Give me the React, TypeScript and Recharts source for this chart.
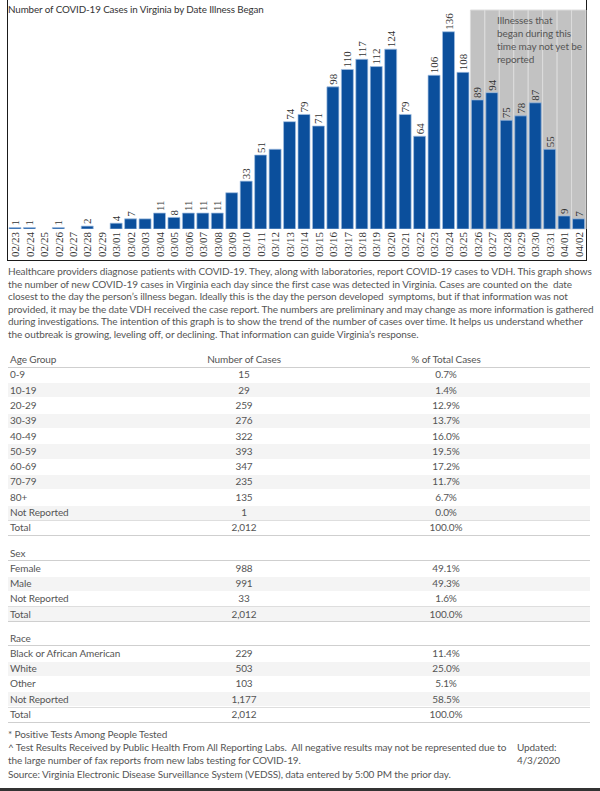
import React from 'react';
import { BarChart, Bar, XAxis, YAxis, ReferenceArea, LabelList } from 'recharts';

const dates = [
  '02/23', '02/24', '02/25', '02/26', '02/27', '02/28', '02/29',
  '03/01', '03/02', '03/03', '03/04', '03/05', '03/06', '03/07', '03/08', '03/09', '03/10',
  '03/11', '03/12', '03/13', '03/14', '03/15', '03/16', '03/17', '03/18', '03/19', '03/20',
  '03/21', '03/22', '03/23', '03/24', '03/25', '03/26', '03/27', '03/28', '03/29', '03/30',
  '03/31', '04/01', '04/02',
];
const cases = [
  1, 1, 0, 1, 0, 2, 0,
  4, 7, 7, 11, 8, 11, 11, 11, 25, 33,
  51, 55, 74, 79, 71, 98, 110, 117, 112, 124,
  79, 64, 106, 136, 108, 89, 94, 75, 78, 87,
  55, 9, 7,
];
const unlabeledDates = ['03/03', '03/09', '03/12'];
const pendingDates = ['03/26', '03/27', '03/28', '03/29', '03/30', '03/31', '04/01', '04/02'];
const yMax = 151;

const chartTitle = 'Number of COVID-19 Cases in Virginia by Date Illness Began';
const noteLines = ['Illnesses that', 'began during this', 'time may not yet be', 'reported'];

const paragraphLines = [
  'Healthcare providers diagnose patients with COVID-19. They, along with laboratories, report COVID-19 cases to VDH. This graph shows',
  'the number of new COVID-19 cases in Virginia each day since the first case was detected in Virginia. Cases are counted on the  date',
  'closest to the day the person\u2019s illness began. Ideally this is the day the person developed  symptoms, but if that information was not',
  'provided, it may be the date VDH received the case report. The numbers are preliminary and may change as more information is gathered',
  'during investigations. The intention of this graph is to show the trend of the number of cases over time. It helps us understand whether',
  'the outbreak is growing, leveling off, or declining. That information can guide Virginia\u2019s response.',
];

const ageGroups = ['0-9', '10-19', '20-29', '30-39', '40-49', '50-59', '60-69', '70-79', '80+', 'Not Reported', 'Total'];
const ageCases = ['15', '29', '259', '276', '322', '393', '347', '235', '135', '1', '2,012'];
const agePct = ['0.7%', '1.4%', '12.9%', '13.7%', '16.0%', '19.5%', '17.2%', '11.7%', '6.7%', '0.0%', '100.0%'];

const sexGroups = ['Female', 'Male', 'Not Reported', 'Total'];
const sexCases = ['988', '991', '33', '2,012'];
const sexPct = ['49.1%', '49.3%', '1.6%', '100.0%'];

const raceGroups = ['Black or African American', 'White', 'Other', 'Not Reported', 'Total'];
const raceCases = ['229', '503', '103', '1,177', '2,012'];
const racePct = ['11.4%', '25.0%', '5.1%', '58.5%', '100.0%'];

const footLines = [
  '* Positive Tests Among People Tested',
  '^ Test Results Received by Public Health From All Reporting Labs.  All negative results may not be represented due to',
  'the large number of fax reports from new labs testing for COVID-19.',
  'Source: Virginia Electronic Disease Surveillance System (VEDSS), data entered by 5:00 PM the prior day.',
];
const updatedLines = ['Updated:', '4/3/2020'];

const data = dates.map((d, i) => ({
  date: d,
  cases: cases[i],
  label: cases[i] === 0 || unlabeledDates.includes(d) ? '' : String(cases[i]),
}));

const SERIF = "'Liberation Serif', 'DejaVu Serif', serif";
const SANS = "Lato, Roboto, 'Liberation Sans', sans-serif";
const TEXT = '#555555';

const DateTick = (p: any) => {
  const { x, y, payload } = p;
  return (
    <text
      transform={`translate(${x},${y - 5}) rotate(-90)`}
      textAnchor="end"
      dominantBaseline="central"
      fontFamily={SERIF}
      fontSize={11}
      fill="#333"
    >
      {payload.value}
    </text>
  );
};

const ValueLabel = (p: any) => {
  if (!p.value) return null;
  const vb = p.viewBox || p;
  const cx = vb.x + vb.width / 2;
  const top = Math.min(vb.y, vb.y + vb.height);
  return (
    <text
      transform={`translate(${cx},${top - 2}) rotate(-90)`}
      textAnchor="start"
      dominantBaseline="central"
      fontFamily={SERIF}
      fontSize={11}
      fill="#333"
    >
      {p.value}
    </text>
  );
};

const ROW = 15.3;
const COL_NUM = 244;
const COL_PCT = 446;
const LINE_L = 8;
const LINE_R = 590;

function Table({ top, header, labels, nums, pcts }: any) {
  const rows: any[] = [];
  rows.push(
    <div key="h" style={{ position: 'absolute', left: 0, top, width: 600, height: ROW }}>
      <div style={{ position: 'absolute', left: 10, top: 0, lineHeight: `${ROW}px` }}>{header[0]}</div>
      {header[1] && (
        <div style={{ position: 'absolute', left: COL_NUM - 80, width: 160, textAlign: 'center', top: 0, lineHeight: `${ROW}px` }}>{header[1]}</div>
      )}
      {header[2] && (
        <div style={{ position: 'absolute', left: COL_PCT - 80, width: 160, textAlign: 'center', top: 0, lineHeight: `${ROW}px` }}>{header[2]}</div>
      )}
      <div style={{ position: 'absolute', left: LINE_L, width: LINE_R - LINE_L, top: ROW - 0.5, height: 1, background: '#cfcfcf' }} />
    </div>
  );
  labels.forEach((lab: string, i: number) => {
    const t = top + ROW * (i + 1);
    const isTotal = i === labels.length - 1;
    rows.push(
      <div
        key={'bg' + lab + i}
        style={{
          position: 'absolute',
          left: LINE_L,
          top: t + 0.5,
          width: LINE_R - LINE_L,
          height: ROW - 1,
          background: i % 2 === 1 ? '#f4f4f4' : 'transparent',
        }}
      />
    );
    rows.push(
      <div key={'t' + lab + i} style={{ position: 'absolute', left: 0, top: t, width: 600, height: ROW }}>
        <div style={{ position: 'absolute', left: 10, top: 0, lineHeight: `${ROW}px`, whiteSpace: 'nowrap' }}>{lab}</div>
        <div style={{ position: 'absolute', left: COL_NUM - 80, width: 160, textAlign: 'center', top: 0, lineHeight: `${ROW}px` }}>{nums[i]}</div>
        <div style={{ position: 'absolute', left: COL_PCT - 80, width: 160, textAlign: 'center', top: 0, lineHeight: `${ROW}px` }}>{pcts[i]}</div>
        {isTotal && (
          <>
            <div style={{ position: 'absolute', left: LINE_L, width: LINE_R - LINE_L, top: -0.5, height: 1, background: '#dedede' }} />
            <div style={{ position: 'absolute', left: LINE_L, width: LINE_R - LINE_L, top: ROW - 0.5, height: 1, background: '#cfcfcf' }} />
          </>
        )}
      </div>
    );
  });
  return <>{rows}</>;
}

export default function App() {
  return (
    <div
      style={{
        position: 'absolute',
        left: 0,
        top: 0,
        width: 600,
        height: 791,
        background: '#fff',
        overflow: 'hidden',
        fontFamily: SANS,
        fontSize: 10,
        letterSpacing: '-0.1px',
        color: TEXT,
      }}
    >
      <div
        style={{
          position: 'absolute',
          left: 7,
          top: -1,
          width: 578,
          height: 261,
          borderLeft: '1px solid #1a1a1a',
          borderRight: '1px solid #1a1a1a',
          borderBottom: '1px solid #1a1a1a',
        }}
      />
      <div style={{ position: 'absolute', left: 0, top: 0, letterSpacing: 'normal' }}>
        <BarChart
          width={600}
          height={262}
          data={data}
          margin={{ top: 10, right: 14, bottom: 0, left: 8 }}
          barCategoryGap={1}
        >
          <XAxis
            dataKey="date"
            interval={0}
            height={33}
            axisLine={false}
            tickLine={false}
            tick={<DateTick />}
          />
          <YAxis hide domain={[0, yMax]} allowDataOverflow type="number" />
          {pendingDates.map((d) => (
            <ReferenceArea
              key={d}
              x1={d}
              x2={d}
              y1={0}
              y2={yMax}
              fill="#c2c2c2"
              fillOpacity={1}
              stroke="#dcdcdc"
              strokeWidth={1}
              ifOverflow="visible"
            />
          ))}
          <Bar dataKey="cases" fill="#0b4f9c" stroke="#a3c0e3" strokeWidth={0.7} isAnimationActive={false}>
            <LabelList dataKey="label" content={<ValueLabel />} />
          </Bar>
        </BarChart>
      </div>
      <div style={{ position: 'absolute', left: 8, top: 3, fontSize: 9.8, color: '#333', whiteSpace: 'nowrap' }}>{chartTitle}</div>
      <div style={{ position: 'absolute', left: 497, top: 13.5, fontSize: 10, lineHeight: '13.3px', color: '#555' }}>
        {noteLines.map((l) => (
          <div key={l} style={{ whiteSpace: 'nowrap' }}>{l}</div>
        ))}
      </div>

      <div style={{ position: 'absolute', left: 8, top: 265, lineHeight: '12.6px' }}>
        {paragraphLines.map((l, i) => (
          <div key={i} style={{ whiteSpace: 'pre' }}>{l}</div>
        ))}
      </div>

      <Table top={352} header={['Age Group', 'Number of Cases', '% of Total Cases']} labels={ageGroups} nums={ageCases} pcts={agePct} />
      <Table top={545.5} header={['Sex']} labels={sexGroups} nums={sexCases} pcts={sexPct} />
      <Table top={630.5} header={['Race']} labels={raceGroups} nums={raceCases} pcts={racePct} />

      <div style={{ position: 'absolute', left: 8, top: 728, lineHeight: '13.2px' }}>
        {footLines.map((l, i) => (
          <div key={i} style={{ whiteSpace: 'pre' }}>{l}</div>
        ))}
      </div>
      <div style={{ position: 'absolute', left: 517, top: 741.2, lineHeight: '13.2px' }}>
        {updatedLines.map((l) => (
          <div key={l}>{l}</div>
        ))}
      </div>
      <div style={{ position: 'absolute', left: 0, top: 788, width: 600, height: 3, background: '#333' }} />
    </div>
  );
}
